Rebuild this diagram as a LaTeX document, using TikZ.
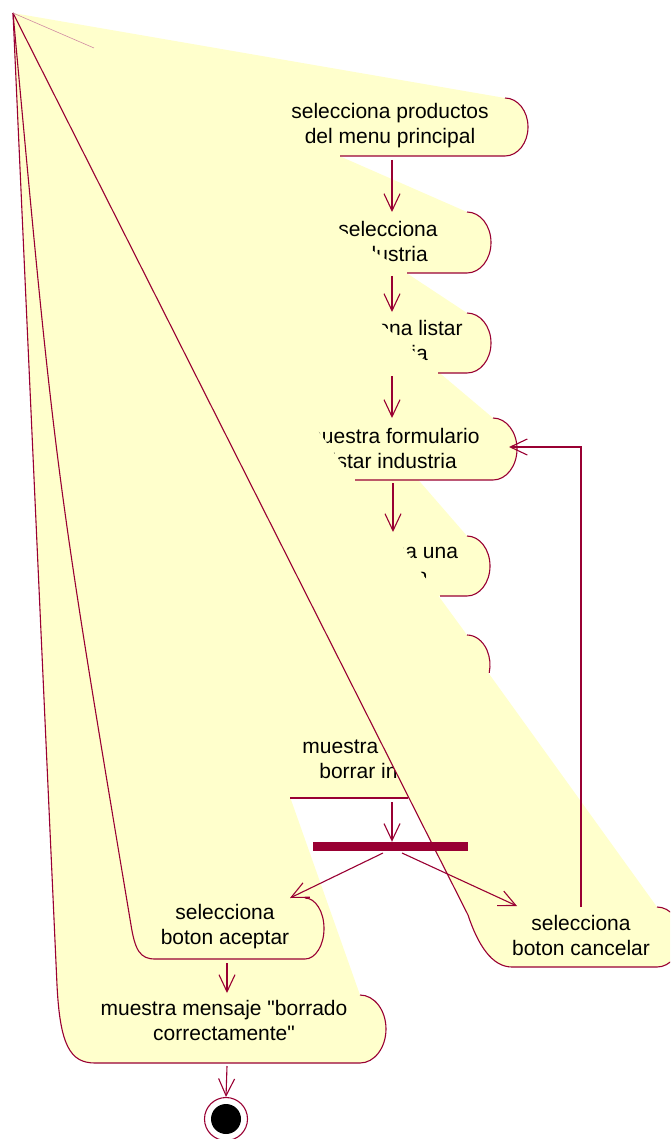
\documentclass[tikz,border=0pt]{standalone}
\usepackage{fontspec}
\setmainfont{Liberation Sans}[Ligatures=TeXOff]
\usetikzlibrary{arrows.meta}
\definecolor{roseline}{HTML}{990033}
\definecolor{rosefill}{HTML}{FFFFCC}
\tikzset{
  actfill/.style={fill=rosefill},
  actline/.style={draw=roseline,line width=1.1pt},
  acttext/.style={align=center,inner sep=0pt,font=\fontsize{21}{25}\selectfont},
}

\begin{document}
\begin{tikzpicture}[x=1pt,y=-1pt,>={Straight Barb[length=17pt,width=16pt]}]
    \useasboundingbox (0,0) rectangle (670,1139);
    \clip (0,0) rectangle (670,1139);
    \coordinate (tip) at (13,13);

    % activity bodies, every one hanging from the same corner
    \fill[actfill] (tip) -- (467,212) arc[start angle=-90,end angle=90,x radius=24,y radius=30.5] -- (300,273) -- cycle;
    \node[acttext] (ind) at (388,241) {selecciona\\industria};
    \fill[actfill] (tip) -- (467,313) arc[start angle=-90,end angle=90,x radius=24,y radius=30] -- (300,373) -- cycle;
    \node[acttext] (lst) at (388,340) {selecciona listar\\industria};
    \fill[actfill] (tip) -- (467,536) arc[start angle=-90,end angle=90,x radius=23,y radius=30] -- (300,596) -- cycle;
    \node[acttext] (una) at (388,563) {selecciona una\\industria};
    \fill[actfill] (tip) -- (493,418) arc[start angle=-90,end angle=90,x radius=24,y radius=31] -- (300,480) -- cycle;
    \node[acttext] (form) at (392,448) {muestra formulario\\listar industria};
    \fill[actfill] (tip) -- (505,98) arc[start angle=-90,end angle=90,x radius=23,y radius=29] -- (270,156) -- cycle;
    \node[acttext] (prod) at (390,126) {selecciona productos\\del menu principal};
    \fill[actfill] (tip) -- (467,635) arc[start angle=-90,end angle=90,x radius=23,y radius=30] -- (300,695) -- cycle;
    \fill[actfill] (tip) -- (467,718) arc[start angle=-90,end angle=90,x radius=24,y radius=40] -- (260,798) -- cycle;
    \node[acttext] (borr) at (390,758) {muestra formulario\\borrar industria};
    \fill[actfill] (tip) -- (360,995) arc[start angle=-90,end angle=90,x radius=26,y radius=34]
        -- (95,1063) .. controls (70,1063) and (60,1045) .. (57,985) .. controls (35,500) .. (tip);
    \node[acttext] (msg) at (224,1020) {muestra mensaje "borrado\\correctamente"};
    \fill[actfill] (tip) -- (305,898) arc[start angle=-90,end angle=90,x radius=19,y radius=30.5]
        -- (155,959) .. controls (140,959) and (135,950) .. (131,925) .. controls (55,470) .. (tip);
    \node[acttext] (acep) at (225,927) {selecciona\\boton aceptar};
    \fill[actfill] (tip) -- (657,907) arc[start angle=-90,end angle=90,x radius=24,y radius=30]
        -- (512,967) .. controls (492,967) and (478,945) .. (468,915) -- (tip);
    \node[acttext] (canc) at (581,935) {selecciona\\boton cancelar};

    % outlines
    \draw[actline] (340,156) -- (505,156) arc[start angle=90,end angle=-90,x radius=23,y radius=29];
    \draw[actline] (407,273) -- (467,273) arc[start angle=90,end angle=-90,x radius=24,y radius=30.5];
    \draw[actline] (438,373) -- (467,373) arc[start angle=90,end angle=-90,x radius=24,y radius=30];
    \draw[actline] (355,480) -- (493,480) arc[start angle=90,end angle=-90,x radius=24,y radius=31];
    \draw[actline] (440,596) -- (467,596) arc[start angle=90,end angle=-90,x radius=23,y radius=30];
    \draw[actline] (467,635) arc[start angle=-90,end angle=15,x radius=23,y radius=30];
    \draw[actline] (290,798) -- (408,798);
    \draw[actline] (tip) .. controls (55,470) .. (131,925) .. controls (135,950) and (140,959) .. (155,959)
        -- (305,959) arc[start angle=90,end angle=-90,x radius=19,y radius=30.5];
    \draw[actline] (tip) .. controls (35,500) .. (57,985) .. controls (60,1045) and (70,1063) .. (95,1063)
        -- (360,1063) arc[start angle=90,end angle=-90,x radius=26,y radius=34];
    \draw[actline] (tip) -- (468,915) .. controls (478,945) and (492,967) .. (512,967)
        -- (657,967) arc[start angle=90,end angle=-90,x radius=24,y radius=30];
    \draw[roseline!45,line width=0.6pt] (tip) -- (94,48);

    % fork and final state
    \node[fill=roseline,inner sep=0pt,minimum width=155pt,minimum height=9pt] (fork) at (390.5,846.5) {};
    \node[circle,draw=roseline,fill=white,line width=1.1pt,inner sep=0pt,minimum size=43pt] (fin) at (226,1119) {};
    \fill (fin) circle (15);

    % transitions
    \coordinate (prodOut) at (392,160);
    \coordinate (indIn) at (392,212);
    \coordinate (indOut) at (392,276);
    \coordinate (lstIn) at (392,312);
    \coordinate (lstOut) at (392,376);
    \coordinate (formIn) at (392,418);
    \coordinate (formOut) at (393,483);
    \coordinate (unaIn) at (393,532);
    \coordinate (borrOut) at (392,802);
    \coordinate (forkL) at (383,853);
    \coordinate (forkR) at (402,853);
    \coordinate (acepIn) at (290,898);
    \coordinate (cancIn) at (517,906);
    \coordinate (acepOut) at (227,963);
    \coordinate (msgIn) at (227,993);
    \coordinate (msgOut) at (227,1066);
    \coordinate (cancOut) at (581,907);
    \coordinate (formBack) at (509,447);
    \draw[actline,->] (prodOut) -- (indIn);
    \draw[actline,->] (indOut) -- (lstIn);
    \draw[actline,->] (lstOut) -- (formIn);
    \draw[actline,->] (formOut) -- (unaIn);
    \draw[actline,->] (borrOut) -- (fork.north -| borrOut);
    \draw[actline,->] (forkL) -- (acepIn);
    \draw[actline,->] (forkR) -- (cancIn);
    \draw[actline,->] (acepOut) -- (msgIn);
    \draw[actline,->] (msgOut) -- (fin.north);
    \draw[actline,->] (cancOut) |- (formBack);
\end{tikzpicture}
\end{document}
